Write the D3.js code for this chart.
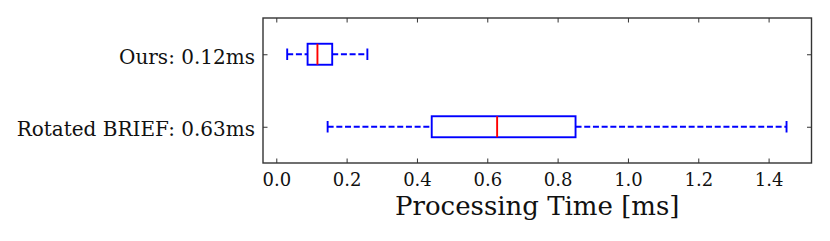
<!DOCTYPE html>
<html>
<head>
<meta charset="utf-8">
<script src="https://cdn.jsdelivr.net/npm/d3@7"></script>
<style>
  body { margin: 0; background: #fff; }
  svg { display: block; }
  svg text { font-family: "DejaVu Serif", serif; }
</style>
</head>
<body>
<div id="chart"></div>
<script>
// box stats (ms)
const labels = ["Ours: 0.12ms", "Rotated BRIEF: 0.63ms"];
const whiskerLow = [0.031, 0.146];
const q1 = [0.089, 0.442];
const median = [0.117, 0.628];
const q3 = [0.159, 0.851];
const whiskerHigh = [0.259, 1.451];
const xTicks = [0.0, 0.2, 0.4, 0.6, 0.8, 1.0, 1.2, 1.4];

const width = 830, height = 241;
const margin = {top: 18, right: 18.5, bottom: 78, left: 263};

const boxes = labels.map((label, i) => ({
  label, lo: whiskerLow[i], q1: q1[i], med: median[i], q3: q3[i], hi: whiskerHigh[i]
}));

const svg = d3.select("#chart").append("svg")
    .attr("width", width)
    .attr("height", height)
    .attr("viewBox", [0, 0, width, height]);

const x = d3.scaleLinear()
    .domain([-0.0378, 1.522])
    .range([margin.left, width - margin.right]);

// matplotlib boxplot puts boxes at 1, 2 from the bottom
const y = d3.scaleLinear()
    .domain([0.5, 2.5])
    .range([height - margin.bottom, margin.top]);
const pos = i => y(labels.length - i);

const boxH = 21;
const capH = 11.5;
const tickLen = 4.5;
const lw = 1.9;

// boxes
const g = svg.append("g");
const b = g.selectAll("g").data(boxes).join("g");

b.append("line") // low whisker
    .attr("x1", d => x(d.lo)).attr("x2", d => x(d.q1))
    .attr("y1", (d, i) => pos(i)).attr("y2", (d, i) => pos(i))
    .attr("stroke", "blue").attr("stroke-width", lw)
    .attr("stroke-dasharray", "6,2.7");
b.append("line") // high whisker
    .attr("x1", d => x(d.q3)).attr("x2", d => x(d.hi))
    .attr("y1", (d, i) => pos(i)).attr("y2", (d, i) => pos(i))
    .attr("stroke", "blue").attr("stroke-width", lw)
    .attr("stroke-dasharray", "6,2.7");
for (const k of ["lo", "hi"]) {
  b.append("line") // caps
      .attr("x1", d => x(d[k])).attr("x2", d => x(d[k]))
      .attr("y1", (d, i) => pos(i) - capH / 2).attr("y2", (d, i) => pos(i) + capH / 2)
      .attr("stroke", "blue").attr("stroke-width", lw);
}
b.append("rect")
    .attr("x", d => x(d.q1))
    .attr("width", d => x(d.q3) - x(d.q1))
    .attr("y", (d, i) => pos(i) - boxH / 2)
    .attr("height", boxH)
    .attr("fill", "none")
    .attr("stroke", "blue").attr("stroke-width", lw);
b.append("line") // median
    .attr("x1", d => x(d.med)).attr("x2", d => x(d.med))
    .attr("y1", (d, i) => pos(i) - boxH / 2).attr("y2", (d, i) => pos(i) + boxH / 2)
    .attr("stroke", "red").attr("stroke-width", lw);

// x axis (bottom + top, ticks inward)
const xAxis = svg.append("g")
    .attr("transform", `translate(0,${height - margin.bottom})`)
    .call(d3.axisBottom(x).tickValues(xTicks).tickFormat(d3.format(".1f"))
      .tickSizeInner(-tickLen).tickSizeOuter(0).tickPadding(10));
xAxis.attr("font-family", null);
xAxis.select(".domain").remove();
xAxis.selectAll("line").attr("stroke", "#333");
xAxis.selectAll("text").attr("font-size", 18).attr("fill", "#111");

const xTop = svg.append("g")
    .attr("transform", `translate(0,${margin.top})`)
    .call(d3.axisTop(x).tickValues(xTicks).tickFormat("").tickSizeInner(-tickLen).tickSizeOuter(0));
xTop.select(".domain").remove();
xTop.selectAll("line").attr("stroke", "#333");

// y axis (left + right, ticks inward)
const yScaleBand = d3.scalePoint().domain(labels).range([pos(0), pos(1)]);
const yAxis = svg.append("g")
    .attr("transform", `translate(${margin.left},0)`)
    .call(d3.axisLeft(yScaleBand).tickSizeInner(-tickLen).tickSizeOuter(0).tickPadding(8));
yAxis.attr("font-family", null);
yAxis.select(".domain").remove();
yAxis.selectAll("line").attr("stroke", "#333");
yAxis.selectAll("text").attr("font-size", 20).attr("dy", "0.45em").attr("fill", "#111");

const yRight = svg.append("g")
    .attr("transform", `translate(${width - margin.right},0)`)
    .call(d3.axisRight(yScaleBand).tickFormat("").tickSizeInner(-tickLen).tickSizeOuter(0));
yRight.select(".domain").remove();
yRight.selectAll("line").attr("stroke", "#333");

// frame
svg.append("rect")
    .attr("x", margin.left).attr("y", margin.top)
    .attr("width", width - margin.left - margin.right)
    .attr("height", height - margin.top - margin.bottom)
    .attr("fill", "none").attr("stroke", "#333").attr("stroke-width", 1.4);

// axis title
svg.append("text")
    .attr("x", (margin.left + width - margin.right) / 2)
    .attr("y", 214.5)
    .attr("text-anchor", "middle")
    .attr("font-size", 26)
    .attr("fill", "#111")
    .text("Processing Time [ms]");
</script>
</body>
</html>
